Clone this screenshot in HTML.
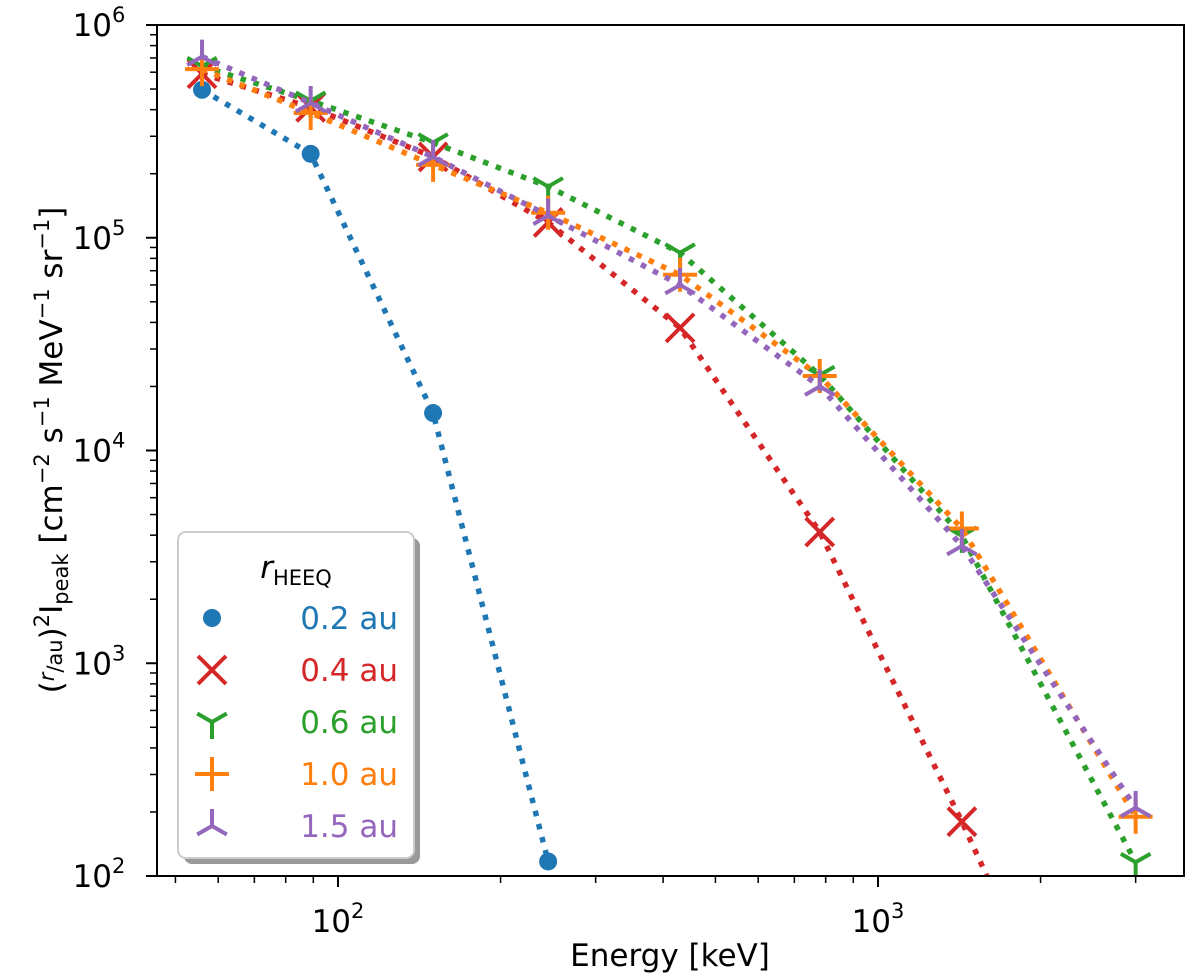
<!DOCTYPE html>
<html><head><meta charset="utf-8"><style>
body{margin:0;background:#fff;overflow:hidden;}
svg{display:block;font-family:"DejaVu Sans","Liberation Sans",sans-serif;}
</style></head><body>
<svg id="chart" width="1200" height="979"></svg>
<script>
const energies = [56, 89, 150, 245, 430, 780, 1430, 3000];
const blueVals = [4.96e5, 2.48e5, 1.5e4, 117];
const redVals = [5.9e5, 4.1e5, 2.4e5, 1.18e5, 3.77e4, 4140, 180, 3];
const greenVals = [6.4e5, 4.4e5, 2.8e5, 1.74e5, 8.5e4, 2.26e4, 3970, 116];
const orangeVals = [6.2e5, 3.86e5, 2.2e5, 1.31e5, 6.7e4, 2.24e4, 4300, 190];
const purpleVals = [7.1e5, 4.3e5, 2.4e5, 1.27e5, 6.0e4, 2.0e4, 3560, 209];
const seriesNames = ["0.2 au", "0.4 au", "0.6 au", "1.0 au", "1.5 au"];
const xTickExps = [2, 3];
const yTickExps = [2, 3, 4, 5, 6];

const L=157,R=1184,T=25,B=876;
const xs = e => 338 + 540*(Math.log10(e)-2);
const ys = v => B - 212.75*(Math.log10(v)-2);
const NS="http://www.w3.org/2000/svg";
const svg=document.getElementById('chart');
function mk(tag, attrs, parent){const el=document.createElementNS(NS,tag);for(const k in attrs)el.setAttribute(k,attrs[k]);(parent||svg).appendChild(el);return el;}

const defs=mk('defs',{});
const cp=mk('clipPath',{id:'clip'},defs);
mk('rect',{x:L,y:T,width:R-L,height:B-T},cp);

const tg=mk('g',{});


for(let d=1;d<=3;d++){for(let m=1;m<10;m++){const e=m*Math.pow(10,d);const x=xs(e);if(x<L||x>R)continue;
 mk('line',{x1:x,x2:x,y1:B,y2:B+(m==1?11:7),stroke:'#000','stroke-width':m==1?2:1.5},tg);}}
for(let d=2;d<6;d++){for(let m=1;m<10;m++){const y=ys(m*Math.pow(10,d));
 mk('line',{x1:L,x2:L-(m==1?11:7),y1:y,y2:y,stroke:'#000','stroke-width':m==1?2:1.5},tg);}}
mk('line',{x1:L,x2:L-11,y1:T,y2:T,stroke:'#000','stroke-width':2},tg);
xTickExps.forEach(p=>{const t=mk('text',{x:xs(Math.pow(10,p)),y:B+56,'text-anchor':'middle','font-size':31});
 
 t.innerHTML='10<tspan dy="-14" font-size="21">'+p+'</tspan>';});
yTickExps.forEach(p=>{const t=mk('text',{x:L-58,y:ys(Math.pow(10,p))+11,'text-anchor':'middle','font-size':31});
 
 t.innerHTML='10<tspan dy="-14" font-size="21">'+p+'</tspan>';});

const xt=mk('text',{x:670,y:966,'text-anchor':'middle','font-size':31});

xt.textContent='Energy [keV]';
const yt=mk('text',{transform:'translate(62,450) rotate(-90)','text-anchor':'middle','font-size':31});

yt.innerHTML='(<tspan font-style="italic" font-size="21" dy="-8">r</tspan><tspan font-size="21" dy="8">/au</tspan>)<tspan dy="-13" font-size="21">2</tspan><tspan dy="13">I</tspan><tspan font-size="21" dy="6">peak</tspan><tspan dy="-6"> [cm</tspan><tspan dy="-13" font-size="21">−2</tspan><tspan dy="13"> s</tspan><tspan dy="-13" font-size="21">−1</tspan><tspan dy="13"> MeV</tspan><tspan dy="-13" font-size="21">−1</tspan><tspan dy="13"> sr</tspan><tspan dy="-13" font-size="21">−1</tspan><tspan dy="13">]</tspan>';

const colors=['#1f77b4','#d62728','#2ca02c','#ff7f0e','#9467bd'];
const allVals=[blueVals,redVals,greenVals,orangeVals,purpleVals];
const kinds=['circle','x','tri_down','plus','tri_up'];
function marker(kind,x,y,c,g){
 const sw=4;
 if(kind==='circle')mk('circle',{cx:x,cy:y,r:9,fill:c},g);
 else if(kind==='x'){const s=14;mk('path',{d:`M${x-s} ${y-s}L${x+s} ${y+s}M${x-s} ${y+s}L${x+s} ${y-s}`,stroke:c,'stroke-width':sw,fill:'none'},g);}
 else if(kind==='plus'){const s=17;mk('path',{d:`M${x-s} ${y}L${x+s} ${y}M${x} ${y-s}L${x} ${y+s}`,stroke:c,'stroke-width':sw,fill:'none'},g);}
 else if(kind==='tri_down'){const s=17;mk('path',{d:`M${x} ${y}L${x} ${y+s}M${x} ${y}L${x-s*0.87} ${y-s*0.5}M${x} ${y}L${x+s*0.87} ${y-s*0.5}`,stroke:c,'stroke-width':sw,fill:'none'},g);}
 else {const s=17;mk('path',{d:`M${x} ${y}L${x} ${y-s}M${x} ${y}L${x-s*0.87} ${y+s*0.5}M${x} ${y}L${x+s*0.87} ${y+s*0.5}`,stroke:c,'stroke-width':sw,fill:'none'},g);}
}
[0,1,2,3,4].forEach(i=>{
 const g=mk('g',{'clip-path':'url(#clip)'});
 
 
 const v=allVals[i];
 const pts=v.map((val,j)=>[xs(energies[j]),ys(val)]);
 mk('polyline',{points:pts.map(p=>p.join(',')).join(' '),fill:'none',stroke:colors[i],'stroke-width':5.5,'stroke-dasharray':'5.5 8'},g);
 pts.forEach(p=>marker(kinds[i],p[0],p[1],colors[i],g));
});

mk('rect',{x:L,y:T,width:R-L,height:B-T,fill:'none',stroke:'#000','stroke-width':2});

const lg=mk('g',{});

mk('rect',{x:184,y:538,width:236,height:326,rx:8,fill:'#999'},lg);
mk('rect',{x:178,y:532,width:236,height:326,rx:8,fill:'#fff',stroke:'#ccc','stroke-width':2},lg);
const lt=mk('text',{x:296,y:578,'text-anchor':'middle','font-size':31},lg);
lt.innerHTML='<tspan font-style="italic">r</tspan><tspan font-size="21" dy="7">HEEQ</tspan>';
seriesNames.forEach((n,i)=>{
 const y=618+i*52;
 const e=mk('g',{},lg);
 
 marker(kinds[i],212,y,colors[i],e);
 const t=mk('text',{x:398,y:y+11,'text-anchor':'end','font-size':31,fill:colors[i]},e);
 t.textContent=n;
});
</script>
</body></html>
